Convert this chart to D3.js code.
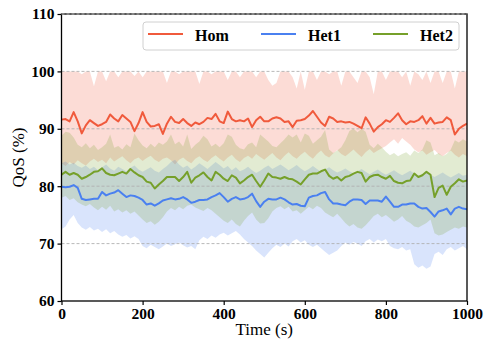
<!DOCTYPE html>
<html><head><meta charset="utf-8">
<script src="https://cdn.jsdelivr.net/npm/d3@7"></script>
<style>html,body{margin:0;padding:0;background:#fff;}svg{display:block;}</style>
</head><body>
<svg id="c" width="485" height="342"></svg>
<script>
const T = d3.range(0, 1001, 10);
const seriesNames = ["Hom", "Het1", "Het2"];
const seriesColors = ["#f05a3c", "#4a80f0", "#76a02a"];
const xTicks = [0, 200, 400, 600, 800, 1000];
const yTicks = [60, 70, 80, 90, 100, 110];
const gridValues = [70, 80, 90, 100, 110];

const homMean = [91.6,91.7,91.3,92.9,91.3,89.2,90.6,91.5,91.0,90.5,
 90.8,91.2,92.5,91.8,91.3,92.4,91.8,91.2,89.6,91.0,
 92.9,91.2,90.4,90.5,90.8,89.1,90.9,92.1,91.2,91.0,
 91.7,91.0,90.5,91.1,90.8,91.2,91.9,91.7,92.6,91.3,
 91.0,93.0,91.7,91.3,91.5,91.3,91.8,90.3,91.5,92.1,
 91.3,91.3,91.8,92.0,91.8,91.2,91.3,90.3,91.4,91.5,
 91.7,92.3,93.1,92.1,91.1,90.5,92.1,91.8,91.2,91.3,
 91.1,91.2,90.9,90.5,90.1,92.0,90.9,89.5,90.3,90.8,
 91.5,91.2,91.9,92.7,91.5,90.8,91.3,91.2,91.5,92.2,
 90.9,91.9,90.9,91.1,91.2,92.0,91.5,89.0,90.0,90.5,90.9];
const homUpper = [100,100,100,100,100,99.5,100,100,97.4,100,
 100,98.3,100,100,99,100,100,100,99.2,100,
 99,100,100,100,100,100,98,100,100,99.5,
 100,100,100,100,97.8,100,100,99.5,100,100,
 100,98.5,100,100,99,100,100,100,99,100,
 100,98.5,97.5,98,100,100,100,99,97,100,
 96.8,100,100,98.5,100,100,99.5,100,100,97.5,
 100,100,99,98,100,100,99,96,100,100,
 98.5,100,100,100,99,100,97.5,100,99.5,98.5,
 100,98,100,100,98,100,100,97,100,100,100];
const homLower = [84.0,83.5,84.2,83.8,84.5,84.0,83.6,84.3,84.8,84.2,
 84.6,84.0,85.0,84.3,84.8,85.2,84.5,84.0,84.7,85.0,
 84.4,84.9,85.3,84.6,84.2,84.8,85.0,84.5,83.8,84.6,
 85.0,84.4,84.0,84.8,85.2,84.6,84.2,84.9,85.4,84.8,
 84.3,85.0,85.5,84.7,84.2,84.9,85.3,84.8,85.6,85.1,
 84.6,85.2,85.8,85.0,84.5,85.3,85.9,85.2,84.8,85.5,
 86.0,85.3,84.8,85.6,86.2,85.4,85.0,85.7,86.3,85.6,
 85.2,85.8,86.4,85.7,85.1,85.9,86.5,85.8,86.2,86.6,
 87.0,87.6,88.2,87.4,88.4,87.8,87.2,86.4,85.9,86.2,
 85.5,85.9,86.3,85.6,85.2,85.8,86.2,85.5,85.0,85.6,85.2];

const het1Mean = [79.9,79.8,79.9,80.2,79.7,77.8,77.6,77.7,77.8,77.8,
 79.0,78.4,78.7,78.9,79.3,78.7,78.1,78.4,78.3,78.0,
 77.6,76.8,77.0,76.6,77.0,77.5,77.7,77.9,77.7,77.8,
 78.1,77.7,77.1,77.3,77.6,77.6,77.7,78.1,78.4,78.8,
 78.1,77.3,77.8,78.1,77.7,77.8,78.1,78.7,77.4,76.4,
 77.3,77.8,77.7,77.7,78.0,77.7,77.2,76.8,76.9,76.6,
 76.5,78.0,78.3,78.4,78.8,79.0,77.7,77.0,77.0,76.8,
 76.7,77.3,77.7,77.7,77.6,76.9,77.5,77.5,77.5,77.3,
 78.2,77.3,76.4,76.4,76.8,76.8,77.0,77.0,76.4,76.1,
 76.2,75.5,74.7,75.6,75.8,76.1,75.1,76.1,76.4,76.1,76.0];
const het1Upper = [84.0,84.3,83.8,84.1,83.5,83.2,83.6,83.0,83.4,82.8,
 83.3,83.8,83.1,82.7,83.4,83.0,82.6,83.2,83.6,82.9,
 82.5,82.9,83.3,82.7,82.4,83.0,83.5,84.2,84.6,83.8,
 83.2,83.6,82.9,83.4,84.0,83.5,83.0,83.6,84.2,83.7,
 83.1,83.5,82.8,83.3,82.6,82.9,83.4,82.8,82.3,82.7,
 83.2,83.6,83.0,83.4,83.8,83.3,82.8,83.2,83.7,83.1,
 82.6,83.0,83.5,83.0,82.5,82.9,83.3,82.8,82.4,82.7,
 83.1,82.6,82.2,82.6,83.0,82.5,82.1,82.5,82.9,82.4,
 82.0,82.4,82.8,82.3,81.9,82.3,82.7,82.2,81.8,82.1,
 82.5,82.0,81.6,82.0,82.4,81.9,81.5,81.9,82.3,81.8,82.0];
const het1Lower = [72.5,73.0,74.2,75.0,73.6,72.8,72.4,72.9,72.3,72.6,
 72.0,72.5,71.8,72.2,71.6,71.2,71.5,70.9,71.3,70.8,
 69.6,69.2,69.8,69.4,69.0,69.5,70.0,69.6,69.9,70.2,
 69.7,69.3,69.6,69.0,70.6,71.2,70.8,71.4,71.0,71.6,
 71.9,71.4,71.8,72.2,71.6,70.8,70.2,69.6,68.8,68.2,
 67.6,68.4,69.2,69.8,69.4,70.0,69.5,70.4,70.8,70.2,
 70.6,69.8,69.4,69.8,69.2,68.6,68.0,68.4,68.8,69.6,
 70.2,69.8,70.3,70.0,69.6,70.4,70.8,70.2,70.7,70.4,
 70.8,69.6,69.2,69.0,69.4,68.8,69.0,66.4,65.8,66.2,
 65.6,66.0,68.2,68.6,68.0,69.0,69.4,68.8,69.2,69.6,69.0];

const het2Mean = [82.0,82.5,82.0,82.3,82.0,81.3,81.6,82.0,82.5,82.6,
 83.1,82.3,82.0,81.9,82.2,82.5,82.2,83.0,82.4,81.9,
 81.6,80.8,80.6,79.6,80.3,80.9,81.6,81.6,81.6,80.9,
 81.6,82.5,80.6,81.5,81.9,82.4,81.6,81.0,82.5,82.0,
 81.3,80.9,81.9,81.5,80.5,81.0,81.6,82.0,80.9,79.9,
 81.0,82.2,81.6,81.5,81.3,81.6,81.3,81.2,80.8,80.3,
 81.2,82.0,82.2,82.2,82.6,82.9,81.8,81.3,81.6,81.0,
 81.6,81.8,82.2,82.5,82.3,80.8,81.6,81.9,82.0,81.6,
 81.3,81.8,80.9,80.6,80.5,80.9,81.0,82.2,81.6,81.9,
 82.5,82.0,78.1,79.7,80.1,78.5,79.9,80.5,81.2,80.8,81.0];
const het2Upper = [88.8,89.5,89.3,88.5,87.2,86.8,87.5,86.6,87.2,86.3,
 86.8,87.4,89.0,86.7,87.0,86.4,87.3,86.8,89.2,88.0,
 87.1,86.6,87.4,86.8,87.6,87.2,87.8,89.0,87.3,87.8,
 86.9,89.0,86.5,87.2,87.8,88.8,88.2,86.9,87.4,86.8,
 87.5,89.0,88.6,87.2,86.6,86.4,87.3,87.6,86.8,89.0,
 88.4,87.8,87.0,86.8,87.5,88.2,89.0,88.5,89.0,87.6,
 89.2,88.8,87.4,88.0,88.6,89.8,86.4,85.8,86.2,86.8,
 88.0,89.6,90.0,89.4,90.0,89.5,87.2,86.6,87.4,86.8,
 86.0,85.4,85.8,85.2,85.6,85.9,85.3,86.2,85.8,86.4,
 88.0,87.6,85.4,85.8,85.2,85.6,86.4,88.0,87.6,88.2,87.8];
const het2Lower = [78.0,78.3,77.6,77.9,77.2,76.8,76.5,76.9,76.3,75.8,
 76.4,75.9,76.6,75.6,76.0,75.4,75.8,75.2,75.6,74.9,
 74.2,73.6,73.9,73.3,73.8,74.6,75.6,76.2,75.8,76.4,
 76.0,76.6,76.8,76.3,76.0,75.7,76.2,75.8,75.2,74.6,
 74.0,73.6,74.2,73.4,73.0,74.0,74.8,75.4,74.2,73.5,
 73.6,74.4,75.6,76.2,76.5,76.0,76.4,75.6,75.8,75.2,
 75.8,76.4,76.0,76.6,76.2,75.4,75.0,74.6,75.2,74.4,
 73.6,73.0,73.4,72.8,72.6,73.2,74.0,74.8,75.2,74.6,
 75.0,74.4,73.8,74.2,74.8,74.0,73.6,73.0,72.8,73.2,
 73.6,74.2,71.8,71.4,71.6,72.0,72.4,72.8,72.6,73.0,72.8];

const means = [homMean, het1Mean, het2Mean];
const uppers = [homUpper, het1Upper, het2Upper];
const lowers = [homLower, het1Lower, het2Lower];

const svg = d3.select("#c");
const L = 61.5, R = 467, TOP = 14, B = 301;
const x = d3.scaleLinear().domain([0, 1000]).range([L, R]);
const y = d3.scaleLinear().domain([60, 110]).range([B, TOP]);

svg.append("defs").append("clipPath").attr("id", "clip")
  .append("rect").attr("x", L).attr("y", TOP).attr("width", R - L).attr("height", B - TOP);

const plot = svg.append("g").attr("clip-path", "url(#clip)");

// bands
[0, 1, 2].forEach(i => {
  const area = d3.area()
    .x((d, j) => x(T[j]))
    .y0((d, j) => y(lowers[i][j]))
    .y1((d, j) => y(uppers[i][j]));
  plot.append("path").datum(T).attr("d", area)
    .attr("fill", seriesColors[i]).attr("fill-opacity", 0.21).attr("stroke", "none");
});

// grid
plot.selectAll("line.grid").data(gridValues).enter().append("line")
  .attr("x1", L).attr("x2", R)
  .attr("y1", d => y(d)).attr("y2", d => y(d))
  .attr("stroke", "#b0b0b0").attr("stroke-width", 0.9).attr("stroke-dasharray", "3,2");

// lines
[0, 1, 2].forEach(i => {
  const line = d3.line().x((d, j) => x(T[j])).y((d, j) => y(means[i][j])).curve(d3.curveLinear);
  plot.append("path").datum(T).attr("d", line)
    .attr("fill", "none").attr("stroke", seriesColors[i]).attr("stroke-width", 2)
    .attr("stroke-linejoin", "round");
});

// axes
const fontTick = "'Liberation Serif','Times New Roman',serif";
const xAxis = d3.axisBottom(x).tickValues(xTicks).tickSize(4).tickPadding(3).tickFormat(d3.format("d"));
const yAxis = d3.axisLeft(y).tickValues(yTicks).tickSize(4).tickPadding(3).tickFormat(d3.format("d"));
const gx = svg.append("g").attr("transform", `translate(0,${B})`).call(xAxis);
const gy = svg.append("g").attr("transform", `translate(${L},0)`).call(yAxis);
[gx, gy].forEach(g => {
  g.select(".domain").remove();
  g.selectAll(".tick line").attr("stroke", "#000").attr("stroke-width", 1.2);
  g.selectAll(".tick text").attr("fill", "#000").style("font-family", fontTick)
    .style("font-size", "15.5px").style("font-weight", "bold");
});

// spines
svg.append("rect").attr("x", L).attr("y", TOP).attr("width", R - L).attr("height", B - TOP)
  .attr("fill", "none").attr("stroke", "#000").attr("stroke-width", 1.3);
svg.append("line").attr("x1", L).attr("x2", R).attr("y1", TOP).attr("y2", TOP)
  .attr("stroke", "#999").attr("stroke-width", 1.3).attr("stroke-dasharray", "3,2");

// labels
svg.append("text").attr("x", (L + R) / 2).attr("y", 335).attr("text-anchor", "middle")
  .style("font-family", fontTick).style("font-size", "17px").text("Time (s)");
svg.append("text").attr("transform", `translate(24,${(TOP + B) / 2}) rotate(-90)`)
  .attr("text-anchor", "middle")
  .style("font-family", fontTick).style("font-size", "17px").text("QoS (%)");

// legend
const lg = svg.append("g");
lg.append("rect").attr("x", 143).attr("y", 22).attr("width", 316).attr("height", 28).attr("rx", 3)
  .attr("fill", "#fff").attr("fill-opacity", 0.85).attr("stroke", "#d0d0d0").attr("stroke-width", 1);
const legX = [148, 261, 373];
seriesNames.forEach((n, i) => {
  lg.append("line").attr("x1", legX[i]).attr("x2", legX[i] + 35).attr("y1", 34).attr("y2", 34)
    .attr("stroke", seriesColors[i]).attr("stroke-width", 2);
  lg.append("text").attr("x", legX[i] + 47).attr("y", 40.5)
    .style("font-family", fontTick).style("font-size", "16px").style("font-weight", "bold").text(n);
});
</script>
</body></html>
